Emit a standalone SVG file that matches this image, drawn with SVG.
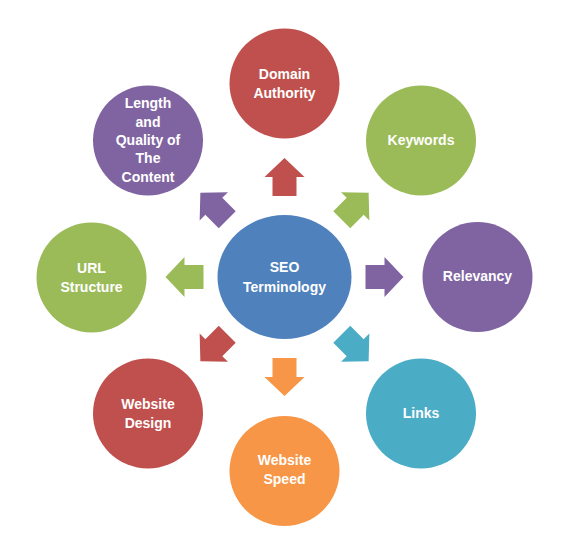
<svg xmlns="http://www.w3.org/2000/svg" width="564" height="550" viewBox="0 0 564 550">
<style>
.t{font-family:"Liberation Sans",Arial,sans-serif;font-weight:bold;font-size:14px;fill:#ffffff;text-anchor:middle}
.red{fill:#C0504D}.green{fill:#9BBB59}.purple{fill:#8064A2}.aqua{fill:#4BACC6}.orange{fill:#F79646}.blue{fill:#4F81BD}
</style>
<defs>
<path id="arr" d="M-19,-12 H0 V-20 L19,0 L0,20 V12 H-19 Z"/>
</defs>
<rect width="564" height="550" fill="#ffffff"/>
<g id="connectors">
<use href="#arr" class="red" transform="translate(284.5,177) rotate(-90)"/>
<use href="#arr" class="green" transform="translate(355.2,206.3) rotate(-45)"/>
<use href="#arr" class="purple" transform="translate(384.5,277)"/>
<use href="#arr" class="aqua" transform="translate(355.2,347.7) rotate(45)"/>
<use href="#arr" class="orange" transform="translate(284.5,377) rotate(90)"/>
<use href="#arr" class="red" transform="translate(213.8,347.7) rotate(135)"/>
<use href="#arr" class="green" transform="translate(184.5,277) rotate(180)"/>
<use href="#arr" class="purple" transform="translate(213.8,206.3) rotate(-135)"/>
</g>
<g id="center">
<ellipse class="blue" cx="284.5" cy="277" rx="67" ry="62"/>
<text class="t" x="284.5" y="272">SEO</text>
<text class="t" x="284.5" y="292">Terminology</text>
</g>
<g id="domain">
<circle class="red" cx="284.5" cy="83.5" r="55"/>
<text class="t" x="284.5" y="79">Domain</text>
<text class="t" x="284.5" y="98">Authority</text>
</g>
<g id="keywords">
<circle class="green" cx="421" cy="140.5" r="55"/>
<text class="t" x="421" y="145">Keywords</text>
</g>
<g id="relevancy">
<circle class="purple" cx="477.5" cy="277" r="55"/>
<text class="t" x="477.5" y="281">Relevancy</text>
</g>
<g id="links">
<circle class="aqua" cx="421" cy="413.5" r="55"/>
<text class="t" x="421" y="418">Links</text>
</g>
<g id="speed">
<circle class="orange" cx="284.5" cy="471" r="55"/>
<text class="t" x="284.5" y="465">Website</text>
<text class="t" x="284.5" y="484">Speed</text>
</g>
<g id="design">
<circle class="red" cx="148" cy="413.5" r="55"/>
<text class="t" x="148" y="409">Website</text>
<text class="t" x="148" y="428">Design</text>
</g>
<g id="url">
<circle class="green" cx="91.5" cy="277.5" r="55"/>
<text class="t" x="91.5" y="273">URL</text>
<text class="t" x="91.5" y="292">Structure</text>
</g>
<g id="length">
<circle class="purple" cx="148" cy="140.5" r="55"/>
<text class="t" x="148" y="108">Length</text>
<text class="t" x="148" y="127">and</text>
<text class="t" x="148" y="145">Quality of</text>
<text class="t" x="148" y="163">The</text>
<text class="t" x="148" y="182">Content</text>
</g>
</svg>
